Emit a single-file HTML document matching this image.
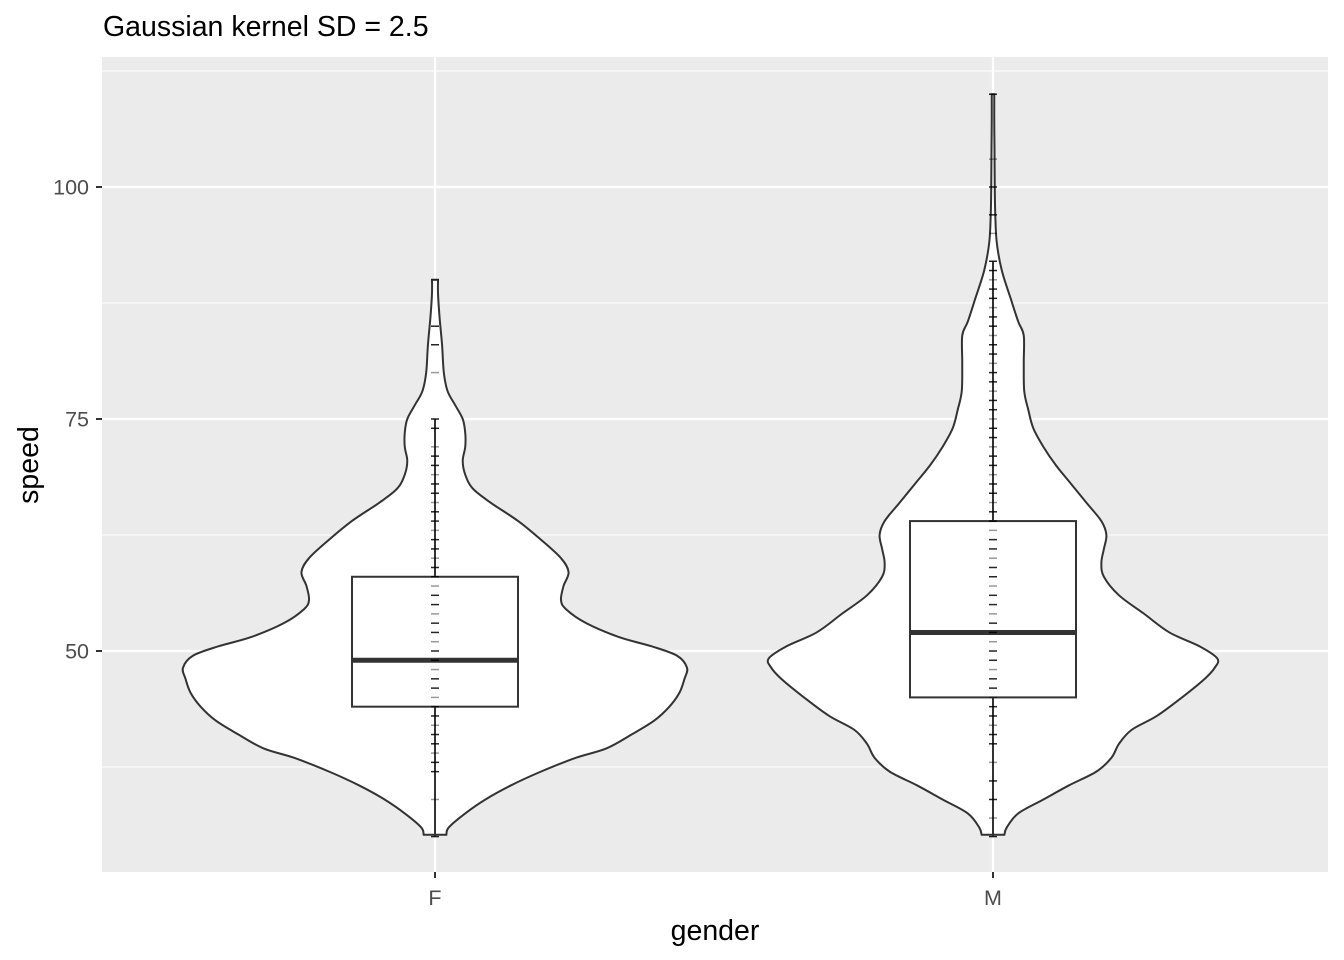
<!DOCTYPE html>
<html><head><meta charset="utf-8"><style>
body{margin:0;background:#fff;}
svg{display:block;font-family:"Liberation Sans",sans-serif;}
</style></head><body>
<svg id="chart" width="1344" height="960">
<text x="103" y="36" font-size="28.5" fill="#000">Gaussian kernel SD = 2.5</text>
<rect x="102" y="57" width="1226" height="815" fill="#ebebeb"/>
<g id="grid"></g><g id="marks"></g><g id="axes"></g>
<text x="715" y="940" font-size="28.5" text-anchor="middle" fill="#000">gender</text>
<text transform="translate(38,465) rotate(-90)" font-size="28.5" text-anchor="middle" fill="#000">speed</text>
</svg>
<script>
const categories=["F","M"];
const yTicks=[50,75,100];
const yMinor=[37.5,62.5,87.5,112.5];
// violin profiles: [speed, relative density]
const profileF=[[30.2,0.045],[31,0.055],[32.5,0.12],[34,0.2],[35.5,0.3],[37,0.42],[38.5,0.56],[39.5,0.68],[41,0.78],[42.5,0.87],[44,0.93],[45.5,0.97],[47,0.99],[48.2,1.0],[49.5,0.96],[50.5,0.86],[51.5,0.73],[53,0.6],[54.5,0.52],[55.5,0.5],[57,0.51],[58.5,0.53],[60,0.5],[62,0.42],[64,0.33],[66,0.22],[67.5,0.15],[69,0.12],[70.5,0.11],[72,0.12],[73.5,0.12],[75,0.11],[76.5,0.08],[78,0.05],[80,0.035],[83,0.028],[86,0.018],[88.5,0.012],[90,0.012]];
const profileM=[[30.2,0.045],[31,0.055],[32.5,0.1],[34,0.2],[35.5,0.3],[37,0.41],[38.5,0.47],[40,0.5],[41.5,0.55],[43,0.65],[45,0.75],[47,0.84],[48.2,0.88],[49.2,0.89],[50.5,0.82],[52,0.7],[54,0.6],[56,0.5],[58,0.44],[59.5,0.43],[61,0.44],[62.5,0.45],[64,0.43],[66,0.37],[68,0.31],[70,0.25],[72,0.2],[74,0.16],[76,0.14],[78,0.124],[81,0.122],[84,0.122],[85.5,0.1],[88,0.07],[91,0.035],[94,0.015],[97,0.009],[100,0.007],[104,0.006],[107,0.005],[110,0.005]];
const boxF=[30,44,49,58,75];
const boxM=[30,45,52,64,92];
const pointsF=[30,34,37,38,39,40,41,42,43,44,45,46,47,48,49,50,51,52,53,54,55,56,57,58,59,60,61,62,63,64,65,66,67,68,69,70,71,72,74,75,80,83,85,90];
const pointsM=[30,32,34,36,38,40,41,42,43,44,45,46,47,48,49,50,51,52,53,54,55,56,57,58,59,60,61,62,63,64,65,66,67,68,69,70,71,72,73,74,75,76,77,78,79,80,81,82,83,84,85,86,87,88,89,90,91,92,95,97,100,103,110];

const px0=102,px1=1328;
const yScale=v=>651-(v-50)*9.28;
const xScale=i=>[435,993][i];
const maxHalf=252, boxHalf=83;
const NS="http://www.w3.org/2000/svg";
function mk(tag,attrs,parent){const e=document.createElementNS(NS,tag);for(const k in attrs)e.setAttribute(k,attrs[k]);parent.appendChild(e);return e;}
const grid=document.getElementById('grid'),marks=document.getElementById('marks'),axes=document.getElementById('axes');
yMinor.forEach(v=>{const l=mk('line',{x1:px0,x2:px1,y1:yScale(v),y2:yScale(v),stroke:'#fff','stroke-width':1.1},grid);

});
yTicks.forEach(v=>{const l=mk('line',{x1:px0,x2:px1,y1:yScale(v),y2:yScale(v),stroke:'#fff','stroke-width':2.2},grid);


const t=mk('line',{x1:96,x2:102,y1:yScale(v),y2:yScale(v),stroke:'#333','stroke-width':2},axes);


const tx=mk('text',{x:89,y:yScale(v)+7.5,'font-size':21.5,'text-anchor':'end',fill:'#4d4d4d'},axes);tx.textContent=v;

});
categories.forEach((c,i)=>{const x=xScale(i);
const l=mk('line',{x1:x,x2:x,y1:57,y2:872,stroke:'#fff','stroke-width':2.2},grid);


const t=mk('line',{x1:x,x2:x,y1:872,y2:878,stroke:'#333','stroke-width':2},axes);


const tx=mk('text',{x:x,y:905,'font-size':21.5,'text-anchor':'middle',fill:'#4d4d4d'},axes);tx.textContent=c;

});

function smooth(pts){let d='M'+pts[0][0]+','+pts[0][1];
for(let i=0;i<pts.length-1;i++){const p0=pts[Math.max(0,i-1)],p1=pts[i],p2=pts[i+1],p3=pts[Math.min(pts.length-1,i+2)];
d+=' C'+(p1[0]+(p2[0]-p0[0])/6)+','+(p1[1]+(p2[1]-p0[1])/6)+' '+(p2[0]-(p3[0]-p1[0])/6)+','+(p2[1]-(p3[1]-p1[1])/6)+' '+p2[0]+','+p2[1];}
return d;}
[[profileF,boxF,pointsF],[profileM,boxM,pointsM]].forEach(([prof,box,pts],i)=>{const cx=xScale(i);
const right=prof.map(([v,d])=>[cx+d*maxHalf,yScale(v)]);
const left=prof.slice().reverse().map(([v,d])=>[cx-d*maxHalf,yScale(v)]);
const dR=smooth(right), dL=smooth(left).replace('M','L');
const vp=mk('path',{d:dR+' '+dL+' Z',fill:'#fff',stroke:'#333','stroke-width':2},marks);


const wl=mk('line',{x1:cx,x2:cx,y1:yScale(box[0]),y2:yScale(box[4]),stroke:'#333','stroke-width':2},marks);


const bx=mk('rect',{x:cx-boxHalf,y:yScale(box[3]),width:boxHalf*2,height:yScale(box[1])-yScale(box[3]),fill:'#fff',stroke:'#333','stroke-width':2},marks);


const md=mk('line',{x1:cx-boxHalf,x2:cx+boxHalf,y1:yScale(box[2]),y2:yScale(box[2]),stroke:'#333','stroke-width':5},marks);


pts.forEach((v,j)=>{const p=mk('line',{x1:cx-4,x2:cx+4,y1:yScale(v),y2:yScale(v),stroke:'#000','stroke-width':1.5,'stroke-opacity':(j%3==1?0.4:0.85)},marks);

});
});
</script>
</body></html>
